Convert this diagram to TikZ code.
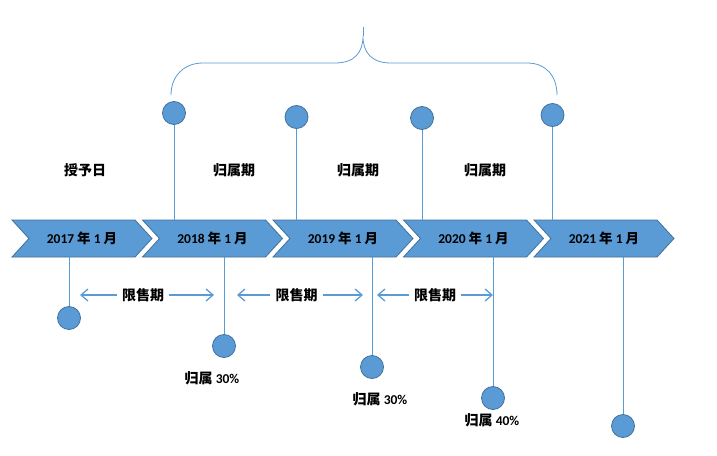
\documentclass[tikz,border=0pt]{standalone}
\usepackage{fontspec}
\setmainfont{Carlito}
\newfontfamily\cjk{Noto Sans CJK SC}
\usetikzlibrary{shapes.symbols,arrows.meta}
\definecolor{chevblue}{HTML}{5B9BD5}
\definecolor{chevedge}{HTML}{41719C}
\tikzset{
  chev/.style={signal,signal to=east,signal from=west,signal pointer angle=95,
    fill=chevblue,draw=chevedge,line width=.8pt,minimum width=140pt,minimum height=37pt,
    inner sep=0pt,font=\fontsize{13.5}{15}\selectfont\bfseries},
  knob/.style={circle,fill=chevblue,draw=chevedge,line width=.8pt,minimum size=23pt,inner sep=0pt},
  link/.style={chevblue,line width=1pt},
  lbl/.style={font=\fontsize{14}{16}\selectfont\bfseries\cjk},
  period/.style={link,line width=1.3pt,-{Straight Barb[length=7pt,width=12pt]}}
}
\begin{document}
\begin{tikzpicture}[x=1pt,y=-1pt]
  \useasboundingbox (0,0) rectangle (717,455);
  % timeline
  \foreach \yr [count=\i from 0] in {2017,2018,2019,2020,2021}
    \node[chev] (y\yr) at (82+130.5*\i,238.5) {\yr\ {\cjk 年} 1 {\cjk 月}};
  % brace
  \draw[link,line width=.8pt] (171,95) .. controls (171,76) and (184,63) .. (203,63) -- (335,63)
    .. controls (355,63) and (363,52) .. (363,36) .. controls (363,52) and (371,63) .. (391,63)
    -- (527,63) .. controls (546,63) and (557,76) .. (557,95);
  \draw[link,line width=.8pt] (363,36) -- (363,27);
  % top pins
  \foreach \n/\x/\y/\c in {1/174/113/2018,2/296.5/117/2019,3/422/118/2020,4/552.5/115/2021}{
    \node[knob] (t\n) at (\x,\y) {};
    \draw[link] (t\n.south) -- (t\n.south |- y\c.north);
  }
  % bottom pins
  \foreach \n/\x/\y/\c in {1/69/318/2017,2/224/346/2018,3/372/367/2019,4/493/398/2020,5/623/426/2021}{
    \node[knob] (b\n) at (\x,\y) {};
    \draw[link] (b\n.north) -- (b\n.north |- y\c.south);
  }
  \node[lbl] (grant) at (85,170) {授予日};
  \foreach \n/\x in {1/234,2/358,3/485}
    \node[lbl] (v\n) at (\x,170) {归属期};
  \foreach \n/\x/\y/\p in {1/212/378/30,2/380/399/30,3/492/420/40}
    \node[font=\fontsize{13.5}{15}\selectfont\bfseries] (r\n) at (\x,\y) {{\fontsize{14}{16}\selectfont\cjk 归属} \p\%};
  % lock-up periods
  \foreach \n/\l/\m/\r in {1/80/143/214,2/237/296.5/363,3/377/435/493}{
    \node[lbl,inner sep=5pt] (p\n) at (\m,295) {限售期};
    \coordinate (pl\n) at (\l,295);
    \coordinate (pr\n) at (\r,295);
    \draw[period] (p\n) -- (pl\n);
    \draw[period] (p\n) -- (pr\n);
  }
\end{tikzpicture}
\end{document}
